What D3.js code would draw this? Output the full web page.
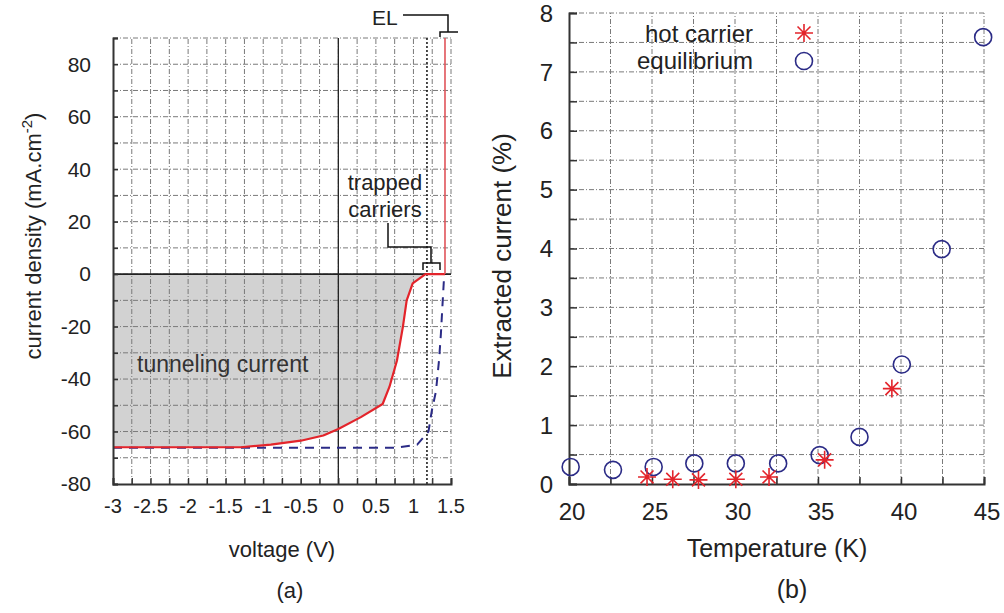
<!DOCTYPE html>
<html>
<head>
<meta charset="utf-8">
<script src="https://cdn.jsdelivr.net/npm/d3@7"></script>
<style>
  html, body { margin: 0; padding: 0; background: #fff; }
  svg { display: block; font-family: "Liberation Sans", Arial, Helvetica, sans-serif; }
</style>
</head>
<body>
<svg id="fig" width="1004" height="613"></svg>
<script>
// ---- panel (a): J-V curves ----
const voltageTicks = [-3, -2.5, -2, -1.5, -1, -0.5, 0, 0.5, 1, 1.5];
const densityTicks = [-80, -60, -40, -20, 0, 20, 40, 60, 80];
// illuminated curve (solid red)
const hotV = [-3, -1.3, -0.9, -0.5, -0.2, 0, 0.3, 0.59, 0.68, 0.78, 0.86, 0.91, 0.99, 1.16, 1.42, 1.42];
const hotJ = [-66, -66, -65, -63.5, -61.5, -59, -54.5, -49.5, -43, -33, -20, -10, -3.5, 0, 0, 90];
// equilibrium curve (dashed blue)
const eqV = [-3, 0.77, 1.05, 1.2, 1.245, 1.3, 1.34, 1.365, 1.39, 1.41];
const eqJ = [-66.2, -66.2, -65, -60, -52, -44.6, -33, -23, -10, 0];
const trapVoltage = 1.18;

// ---- panel (b): extracted current vs temperature ----
const tempTicks = [20, 25, 30, 35, 40, 45];
const extractedTicks = [0, 1, 2, 3, 4, 5, 6, 7, 8];
const hotCarrierT = [24.7, 26.25, 27.8, 30.05, 32.05, 35.4, 39.45];
const hotCarrierI = [0.12, 0.08, 0.07, 0.08, 0.12, 0.41, 1.62];
const equilibriumT = [20.1, 22.65, 25.1, 27.55, 30.05, 32.6, 35.1, 37.5, 40.05, 42.45, 44.95];
const equilibriumI = [0.29, 0.24, 0.29, 0.35, 0.35, 0.35, 0.49, 0.80, 2.03, 3.99, 7.59];

const svg = d3.select("#fig");
const gridColor = "#7a7a7a";
const gridDash = "5,2,1,2";
const axisColor = "#333";
const red = "#e3242b";
const navy = "#2b2b86";

function grid(g, xs, ys, x, y) {
  g.selectAll(null).data(xs).join("line")
    .attr("x1", d => x(d)).attr("x2", d => x(d))
    .attr("y1", y.range()[0]).attr("y2", y.range()[1])
    .attr("stroke", gridColor).attr("stroke-width", 1).attr("stroke-dasharray", gridDash);
  g.selectAll(null).data(ys).join("line")
    .attr("y1", d => y(d)).attr("y2", d => y(d))
    .attr("x1", x.range()[0]).attr("x2", x.range()[1])
    .attr("stroke", gridColor).attr("stroke-width", 1).attr("stroke-dasharray", gridDash);
}

// ================= panel (a) =================
const xa = d3.scaleLinear().domain([-3, 1.5]).range([113, 451]);
const ya = d3.scaleLinear().domain([-80, 90]).range([484, 38]);
const ga = svg.append("g");

const hotPts = hotV.map((v, i) => [v, hotJ[i]]);
const eqPts = eqV.map((v, i) => [v, eqJ[i]]);

// shaded tunnelling region between J = 0 and the solid curve
const shadePts = hotPts.filter(p => p[0] <= 1.16);
ga.append("path")
  .datum(shadePts)
  .attr("d", d3.area().x(d => xa(d[0])).y0(ya(0)).y1(d => ya(d[1])))
  .attr("fill", "#d2d2d2");

grid(ga, d3.range(-2.75, 1.51, 0.25), d3.range(-70, 91, 10), xa, ya);

// zero lines
ga.append("line").attr("x1", xa(0)).attr("x2", xa(0)).attr("y1", ya(-80)).attr("y2", ya(90))
  .attr("stroke", "#222").attr("stroke-width", 1.3);
ga.append("line").attr("x1", xa(-3)).attr("x2", xa(1.5)).attr("y1", ya(0)).attr("y2", ya(0))
  .attr("stroke", "#222").attr("stroke-width", 1.6);

// trap-level marker
ga.append("line").attr("x1", xa(trapVoltage)).attr("x2", xa(trapVoltage))
  .attr("y1", ya(-80)).attr("y2", ya(90))
  .attr("stroke", "#111").attr("stroke-width", 1.5).attr("stroke-dasharray", "2,2");

const lineA = d3.line().x(d => xa(d[0])).y(d => ya(d[1]));
ga.append("path").datum(eqPts).attr("d", lineA)
  .attr("fill", "none").attr("stroke", navy).attr("stroke-width", 2)
  .attr("stroke-dasharray", "9,7");
ga.append("path").datum(hotPts.slice(0, hotPts.length - 1)).attr("d", lineA)
  .attr("fill", "none").attr("stroke", red).attr("stroke-width", 2.2).attr("stroke-linejoin", "round");
ga.append("path").datum(hotPts.slice(hotPts.length - 2)).attr("d", lineA)
  .attr("fill", "none").attr("stroke", "#e0545a").attr("stroke-width", 1.6);

// axes
const axLeftA = d3.axisLeft(ya).tickValues(d3.range(-80, 91, 10)).tickSize(-5).tickFormat("");
ga.append("g").attr("transform", `translate(${xa(-3)},0)`).call(axLeftA)
  .call(g => g.select(".domain").attr("stroke", axisColor).attr("stroke-width", 2))
  .call(g => g.selectAll(".tick line").attr("stroke", axisColor).attr("stroke-width", 1.5));
const axBottomA = d3.axisBottom(xa).tickValues(d3.range(-3, 1.51, 0.25)).tickSize(-6).tickFormat("");
ga.append("g").attr("transform", `translate(0,${ya(-80)})`).call(axBottomA)
  .call(g => g.select(".domain").attr("stroke", axisColor).attr("stroke-width", 2))
  .call(g => g.selectAll(".tick line").attr("stroke", axisColor).attr("stroke-width", 1.3));

ga.selectAll(null).data(densityTicks).join("text")
  .attr("x", 91).attr("y", d => ya(d)).attr("dy", "0.35em")
  .attr("text-anchor", "end").attr("font-size", 21).attr("fill", "#222")
  .text(d => d);
ga.selectAll(null).data(voltageTicks).join("text")
  .attr("x", d => xa(d)).attr("y", 513)
  .attr("text-anchor", "middle").attr("font-size", 20).attr("fill", "#222")
  .text(d => d);

ga.append("text").attr("x", 282).attr("y", 557).attr("text-anchor", "middle")
  .attr("font-size", 22).attr("fill", "#222").text("voltage (V)");
ga.append("text").attr("x", 290).attr("y", 598).attr("text-anchor", "middle")
  .attr("font-size", 22).attr("fill", "#222").text("(a)");

const yTitleA = ga.append("text")
  .attr("transform", "translate(41,236) rotate(-90)")
  .attr("text-anchor", "middle").attr("font-size", 22).attr("fill", "#222");
yTitleA.append("tspan").text("current density (mA.cm");
yTitleA.append("tspan").attr("font-size", 15).attr("dy", -9).text("-2");
yTitleA.append("tspan").attr("dy", 9).text(")");

// annotations
ga.append("text").attr("x", 137).attr("y", 372).attr("font-size", 23)
  .attr("fill", "#333").text("tunneling current");
ga.append("text").attr("x", 385).attr("y", 190).attr("text-anchor", "middle")
  .attr("font-size", 22).attr("fill", "#222").text("trapped");
ga.append("text").attr("x", 385).attr("y", 217).attr("text-anchor", "middle")
  .attr("font-size", 22).attr("fill", "#222").text("carriers");
ga.append("path")
  .attr("d", "M388,223 V247 H431 V263 M423,270 V263 H440 V270")
  .attr("fill", "none").attr("stroke", "#111").attr("stroke-width", 1.5);
ga.append("text").attr("x", 372).attr("y", 25).attr("font-size", 21).attr("fill", "#222").text("EL");
ga.append("path")
  .attr("d", "M403,15 H448 V32 M440,37 V32 H458")
  .attr("fill", "none").attr("stroke", "#111").attr("stroke-width", 1.5);

// ================= panel (b) =================
const xb = d3.scaleLinear().domain([20, 45]).range([569, 984]);
const yb = d3.scaleLinear().domain([0, 8]).range([484, 13]);
const gb = svg.append("g");

grid(gb, d3.range(22.5, 45.1, 2.5), d3.range(0.5, 8.01, 0.5), xb, yb);

const axLeftB = d3.axisLeft(yb).tickValues(d3.range(0, 8.01, 0.5)).tickSize(-8).tickFormat("");
gb.append("g").attr("transform", `translate(${xb(20)},0)`).call(axLeftB)
  .call(g => g.select(".domain").attr("stroke", axisColor).attr("stroke-width", 2))
  .call(g => g.selectAll(".tick line").attr("stroke", axisColor).attr("stroke-width", 1.5));
const axBottomB = d3.axisBottom(xb).tickValues(d3.range(20, 45.1, 2.5)).tickSize(-7).tickFormat("");
gb.append("g").attr("transform", `translate(0,${yb(0)})`).call(axBottomB)
  .call(g => g.select(".domain").attr("stroke", axisColor).attr("stroke-width", 2))
  .call(g => g.selectAll(".tick line").attr("stroke", axisColor).attr("stroke-width", 1.5));

gb.selectAll(null).data(extractedTicks).join("text")
  .attr("x", 553).attr("y", d => yb(d)).attr("dy", "0.36em")
  .attr("text-anchor", "end").attr("font-size", 24).attr("fill", "#222")
  .text(d => d);
gb.selectAll(null).data(tempTicks).join("text")
  .attr("x", d => xb(d) + 3).attr("y", 520)
  .attr("text-anchor", "middle").attr("font-size", 24).attr("fill", "#222")
  .text(d => d);

gb.append("text").attr("x", 777).attr("y", 557).attr("text-anchor", "middle")
  .attr("font-size", 25).attr("fill", "#222").text("Temperature (K)");
gb.append("text").attr("x", 792).attr("y", 598).attr("text-anchor", "middle")
  .attr("font-size", 25).attr("fill", "#222").text("(b)");
gb.append("text").attr("transform", "translate(511,256) rotate(-90)")
  .attr("text-anchor", "middle").attr("font-size", 26).attr("fill", "#222")
  .text("Extracted current (%)");

const asterisk = (s) => `M${-s},0H${s}M0,${-s}V${s}M${-s * 0.72},${-s * 0.72}L${s * 0.72},${s * 0.72}M${-s * 0.72},${s * 0.72}L${s * 0.72},${-s * 0.72}`;

const eqData = equilibriumT.map((t, i) => [t, equilibriumI[i]]);
const hcData = hotCarrierT.map((t, i) => [t, hotCarrierI[i]]);

gb.selectAll(null).data(eqData).join("circle")
  .attr("cx", d => xb(d[0])).attr("cy", d => yb(d[1])).attr("r", 8.5)
  .attr("fill", "none").attr("stroke", navy).attr("stroke-width", 1.6);
gb.selectAll(null).data(hcData).join("path")
  .attr("transform", d => `translate(${xb(d[0])},${yb(d[1])})`)
  .attr("d", asterisk(9))
  .attr("fill", "none").attr("stroke", red).attr("stroke-width", 1.6);

// legend
gb.append("text").attr("x", 753).attr("y", 42).attr("text-anchor", "end")
  .attr("font-size", 24).attr("fill", "#222").text("hot carrier");
gb.append("path").attr("transform", "translate(804,33)").attr("d", asterisk(9))
  .attr("fill", "none").attr("stroke", red).attr("stroke-width", 1.6);
gb.append("text").attr("x", 753).attr("y", 69).attr("text-anchor", "end")
  .attr("font-size", 24).attr("fill", "#222").text("equilibrium");
gb.append("circle").attr("cx", 804).attr("cy", 61).attr("r", 8.5)
  .attr("fill", "none").attr("stroke", navy).attr("stroke-width", 1.6);
</script>
</body>
</html>
